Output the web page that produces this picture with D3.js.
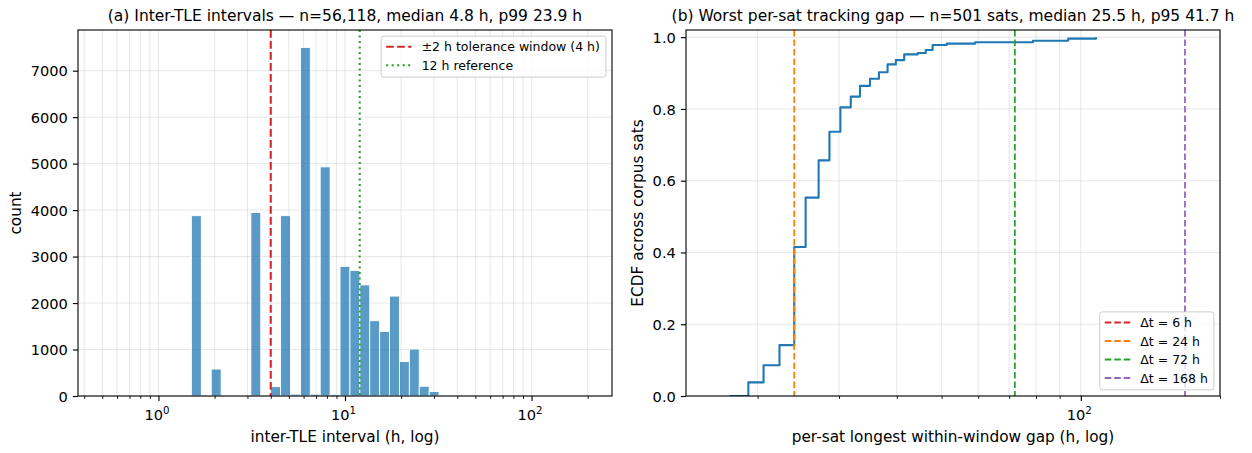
<!DOCTYPE html>
<html>
<head>
<meta charset="utf-8">
<script src="https://cdn.jsdelivr.net/npm/d3@7"></script>
<style>
  body { margin: 0; background: #fff; }
  svg { display: block; }
  text { font-family: "DejaVu Sans", sans-serif; fill: #000; }
</style>
</head>
<body>
<svg id="chart" width="1252" height="453"></svg>
<script>
// ---------- panel (a): inter-TLE interval histogram ----------
// log-spaced bin edges (hours) and the count that falls in each bin
const binEdges = [1.502, 1.698, 1.919, 2.169, 2.451, 2.770, 3.130, 3.537, 3.997, 4.517,
                  5.104, 5.768, 6.518, 7.366, 8.324, 9.407, 10.630, 12.013, 13.575, 15.341,
                  17.336, 19.591, 22.139, 25.019, 28.273, 31.950, 36.100];
const binCounts = [3880, 0, 580, 0, 0, 0, 3950, 0, 200, 3880,
                   40, 7500, 40, 4930, 35, 2790, 2700, 2390, 1620, 1390,
                   2150, 740, 1010, 210, 95, 15];
const toleranceWindowH = 4;
const referenceH = 12;
const xMajorA = [1, 10, 100];
const xMinorA = [0.4, 0.5, 0.6, 0.7, 0.8, 0.9, 2, 3, 4, 5, 6, 7, 8, 9,
                 20, 30, 40, 50, 60, 70, 80, 90, 200];
const yTicksA = [0, 1000, 2000, 3000, 4000, 5000, 6000, 7000];

// ---------- panel (b): ECDF of worst per-satellite gap ----------
const ecdfGapH = [17.4, 19.1, 20.6, 22.3, 24.0, 25.4, 27.1, 28.6, 30.2, 31.8,
                  33.3, 35.0, 36.6, 38.2, 39.8, 41.5, 44.4, 46.2, 47.8, 51.3,
                  59.1, 78.8, 93.9, 107.9];
const ecdfCount = [0, 19, 43, 71, 208, 277, 329, 369, 403, 418,
                   433, 443, 452, 463, 469, 477, 479, 483, 490, 492,
                   494, 496, 499, 501];
const nSats = 501;
const windowsH = [6, 24, 72, 168];
const windowColors = ["#d62728", "#ff7f0e", "#2ca02c", "#9467bd"];
const xMajorB = [100];
const xMinorB = [20, 30, 40, 50, 60, 70, 80, 90, 200];
const yTicksB = [0, 0.2, 0.4, 0.6, 0.8, 1.0];

// ---------- layout ----------
const plotTop = 30, plotBottom = 396;
const panelA = { x0: 78, x1: 612 };
const panelB = { x0: 686, x1: 1220 };
const TICK_FS = 14.6, LABEL_FS = 15.3, TITLE_FS = 15.5, LEGEND_FS = 12.5;
const majorLen = 5.1, minorLen = 2.9, tickPad = 5.1;

const svg = d3.select("#chart");

const xA = d3.scaleLog().domain([0.3706, 270]).range([panelA.x0, panelA.x1]);
const yA = d3.scaleLinear().domain([0, d3.max(binCounts) * 1.05]).range([plotBottom, plotTop]);
const xB = d3.scaleLog().domain([14, 200]).range([panelB.x0, panelB.x1]);
const yB = d3.scaleLinear().domain([0, 1.02]).range([plotBottom, plotTop]);

function clipFor(id, p) {
  svg.append("clipPath").attr("id", id).append("rect")
    .attr("x", p.x0).attr("y", plotTop).attr("width", p.x1 - p.x0).attr("height", plotBottom - plotTop);
  return `url(#${id})`;
}

function drawGrid(g, x, y, xVals, yVals, p) {
  const grid = g.append("g").attr("stroke", "#b0b0b0").attr("stroke-opacity", 0.3).attr("stroke-width", 1);
  grid.selectAll("line.v").data(xVals).join("line").attr("class", "v")
    .attr("x1", d => x(d)).attr("x2", d => x(d)).attr("y1", plotTop).attr("y2", plotBottom);
  grid.selectAll("line.h").data(yVals).join("line").attr("class", "h")
    .attr("x1", p.x0).attr("x2", p.x1).attr("y1", d => y(d)).attr("y2", d => y(d));
}

function drawAxes(g, x, y, xMajor, xMinor, yTicks, yFmt, p) {
  // minor x ticks
  const minor = g.append("g").attr("transform", `translate(0,${plotBottom})`)
    .call(d3.axisBottom(x).tickValues(xMinor).tickSize(minorLen).tickFormat(""));
  minor.select(".domain").remove();
  minor.selectAll(".tick line").attr("stroke-width", 0.9);

  // major x ticks with power-of-ten labels
  const major = g.append("g").attr("transform", `translate(0,${plotBottom})`)
    .call(d3.axisBottom(x).tickValues(xMajor).tickSize(majorLen).tickPadding(tickPad).tickFormat(""));
  major.select(".domain").remove();
  major.selectAll(".tick line").attr("stroke-width", 1.15);
  major.selectAll(".tick text").remove();
  major.selectAll(".tick").append("text")
    .attr("x", -2).attr("y", 420 - plotBottom)
    .attr("text-anchor", "middle")
    .style("font-size", TICK_FS + "px")
    .each(function (d) {
      const t = d3.select(this);
      t.append("tspan").text("10");
      t.append("tspan").text(Math.round(Math.log10(d)))
        .style("font-size", (TICK_FS * 0.7) + "px").attr("dy", -5.8);
    });

  // y ticks
  const ya = g.append("g").attr("transform", `translate(${p.x0},0)`)
    .call(d3.axisLeft(y).tickValues(yTicks).tickSize(majorLen).tickPadding(tickPad).tickFormat(yFmt));
  ya.select(".domain").remove();
  ya.selectAll(".tick line").attr("stroke-width", 1.15);
  ya.selectAll(".tick text").style("font-size", TICK_FS + "px").attr("dy", "0.36em");

  // frame
  g.append("rect").attr("x", p.x0).attr("y", plotTop).attr("width", p.x1 - p.x0).attr("height", plotBottom - plotTop)
    .attr("fill", "none").attr("stroke", "#000").attr("stroke-width", 1.1);
}

function drawLegend(g, entries, anchor) {
  const pad = 5, handleLen = 25.5, handleGap = 10, rowH = 18.5;
  const lg = g.append("g");
  const box = lg.append("rect");
  const rows = lg.selectAll("g.row").data(entries).join("g").attr("class", "row");
  const labels = rows.append("text").text(d => d.label)
    .style("font-size", LEGEND_FS + "px").attr("dy", "0.36em");
  let maxW = 0;
  labels.each(function () { maxW = Math.max(maxW, this.getComputedTextLength()); });
  const w = pad + handleLen + handleGap + maxW + 6;
  const h = 2 * pad + entries.length * 12.5 + (entries.length - 1) * 6;
  const bx = anchor.right - w;
  const by = anchor.top !== undefined ? anchor.top : anchor.bottom - h;
  box.attr("x", bx).attr("y", by).attr("width", w).attr("height", h)
    .attr("rx", 2.5).attr("fill", "#fff").attr("fill-opacity", 0.8)
    .attr("stroke", "#cccccc").attr("stroke-width", 1);
  rows.attr("transform", (d, i) => `translate(${bx + pad},${by + 10.6 + i * rowH})`);
  rows.append("line").attr("x1", 0).attr("x2", handleLen).attr("y1", 0).attr("y2", 0)
    .attr("stroke", d => d.color).attr("stroke-width", d => d.width)
    .attr("stroke-dasharray", d => d.dash);
  labels.attr("x", handleLen + handleGap);
}

// ---------- panel (a) ----------
const gA = svg.append("g");
const clipA = clipFor("clipA", panelA);
drawGrid(gA, xA, yA, [...xMajorA, ...xMinorA], yTicksA, panelA);

const bins = binCounts.map((c, i) => ({ lo: binEdges[i], hi: binEdges[i + 1], count: c }))
  .filter(b => b.count > 0);
gA.append("g").attr("clip-path", clipA)
  .selectAll("rect").data(bins).join("rect")
  .attr("x", d => xA(d.lo)).attr("width", d => xA(d.hi) - xA(d.lo))
  .attr("y", d => yA(d.count)).attr("height", d => yA(0) - yA(d.count))
  .attr("fill", "#1f77b4").attr("fill-opacity", 0.74)
  .attr("stroke", "#fff").attr("stroke-width", 0.9);

const refA = gA.append("g").attr("clip-path", clipA);
refA.append("line").attr("x1", xA(toleranceWindowH)).attr("x2", xA(toleranceWindowH))
  .attr("y1", plotTop).attr("y2", plotBottom)
  .attr("stroke", "#d62728").attr("stroke-width", 2.1).attr("stroke-dasharray", "7.7 3.3");
refA.append("line").attr("x1", xA(referenceH)).attr("x2", xA(referenceH))
  .attr("y1", plotTop).attr("y2", plotBottom)
  .attr("stroke", "#2ca02c").attr("stroke-width", 2.1).attr("stroke-dasharray", "2.1 3.4");

drawAxes(gA, xA, yA, xMajorA, xMinorA, yTicksA, d3.format("d"), panelA);

gA.append("text").attr("x", (panelA.x0 + panelA.x1) / 2).attr("y", 442)
  .attr("text-anchor", "middle").style("font-size", LABEL_FS + "px")
  .text("inter-TLE interval (h, log)");
gA.append("text").attr("transform", `translate(21,${(plotTop + plotBottom) / 2}) rotate(-90)`)
  .attr("text-anchor", "middle").style("font-size", LABEL_FS + "px").text("count");
gA.append("text").attr("x", (panelA.x0 + panelA.x1) / 2).attr("y", 21)
  .attr("text-anchor", "middle").style("font-size", TITLE_FS + "px")
  .text("(a) Inter-TLE intervals \u2014 n=56,118, median 4.8 h, p99 23.9 h");

drawLegend(gA, [
  { label: "\u00b12 h tolerance window (4 h)", color: "#d62728", width: 2.1, dash: "7.7 3.3" },
  { label: "12 h reference", color: "#2ca02c", width: 2.1, dash: "2.1 3.4" }
], { right: panelA.x1 - 6.1, top: plotTop + 6.1 });

// ---------- panel (b) ----------
const gB = svg.append("g");
const clipB = clipFor("clipB", panelB);
drawGrid(gB, xB, yB, [...xMajorB, ...xMinorB], yTicksB, panelB);

const ecdf = ecdfGapH.map((g, i) => ({ gap: g, frac: ecdfCount[i] / nSats }));
gB.append("path").attr("clip-path", clipB).datum(ecdf)
  .attr("d", d3.line().curve(d3.curveStepAfter).x(d => xB(d.gap)).y(d => yB(d.frac)))
  .attr("fill", "none").attr("stroke", "#1f77b4").attr("stroke-width", 2.1)
  .attr("stroke-linejoin", "round");

gB.append("g").attr("clip-path", clipB)
  .selectAll("line").data(windowsH).join("line")
  .attr("x1", d => xB(d)).attr("x2", d => xB(d)).attr("y1", plotTop).attr("y2", plotBottom)
  .attr("stroke", (d, i) => windowColors[i]).attr("stroke-width", 1.8)
  .attr("stroke-dasharray", "6.6 2.9");

drawAxes(gB, xB, yB, xMajorB, xMinorB, yTicksB, d3.format(".1f"), panelB);

gB.append("text").attr("x", (panelB.x0 + panelB.x1) / 2).attr("y", 442)
  .attr("text-anchor", "middle").style("font-size", LABEL_FS + "px")
  .text("per-sat longest within-window gap (h, log)");
gB.append("text").attr("transform", `translate(642.5,${(plotTop + plotBottom) / 2}) rotate(-90)`)
  .attr("text-anchor", "middle").style("font-size", LABEL_FS + "px").text("ECDF across corpus sats");
gB.append("text").attr("x", (panelB.x0 + panelB.x1) / 2).attr("y", 21)
  .attr("text-anchor", "middle").style("font-size", TITLE_FS + "px")
  .text("(b) Worst per-sat tracking gap \u2014 n=501 sats, median 25.5 h, p95 41.7 h");

drawLegend(gB, windowsH.map((h, i) => ({
  label: `\u0394t = ${h} h`, color: windowColors[i], width: 1.8, dash: "6.6 2.9"
})), { right: panelB.x1 - 6.1, bottom: plotBottom - 6.1 });
</script>
</body>
</html>
